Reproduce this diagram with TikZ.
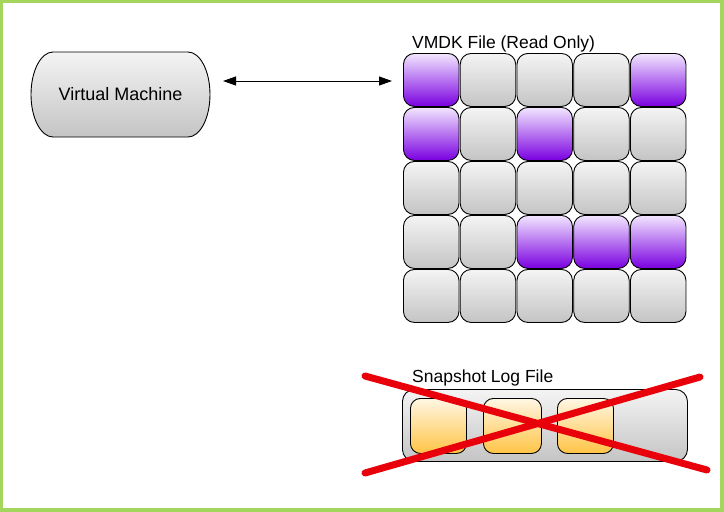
\documentclass[tikz,border=0pt]{standalone}
\usepackage{fontspec}
\setmainfont{Liberation Sans}
\usetikzlibrary{arrows.meta}
\definecolor{bordergreen}{HTML}{A4D65E}
\definecolor{greytop}{HTML}{F4F4F4}
\definecolor{greybot}{HTML}{C4C4C4}
\definecolor{purptop}{HTML}{F2E6FF}
\definecolor{purpbot}{HTML}{7A00E0}
\definecolor{orgtop}{HTML}{FFF6E4}
\definecolor{orgbot}{HTML}{FFC445}
\definecolor{xred}{HTML}{E8000B}
\tikzset{
  cellbox/.style={draw=black, line width=0.9pt, rounded corners=11pt, minimum width=55.5pt, minimum height=53pt, inner sep=0pt, anchor=north west, top color=greytop, bottom color=greybot},
  purpbox/.style={cellbox, top color=purptop, bottom color=purpbot},
  orgbox/.style={draw=black, line width=0.9pt, rounded corners=10pt, minimum width=56pt, minimum height=55pt, inner sep=0pt, anchor=north west, top color=orgtop, bottom color=orgbot},
  lbl/.style={font=\fontsize{17.5pt}{20pt}\selectfont, inner sep=0pt, anchor=base west},
  crossline/.style={draw=xred, line width=7pt, line cap=round}
}
\begin{document}
\begin{tikzpicture}[x=1pt,y=-1pt]
\useasboundingbox (0,0) rectangle (724,512);
\fill[bordergreen] (0,0) rectangle (724,512);
\fill[white] (3,3) rectangle (720,508);
% Virtual machine
\shade[draw=black, line width=0.9pt, top color=greytop, bottom color=greybot]
  (53,52) -- (188,52) arc[start angle=-90, end angle=90, x radius=22, y radius=42.5]
  -- (53,137) arc[start angle=90, end angle=270, x radius=22, y radius=42.5] -- cycle;
\node[minimum width=179pt, minimum height=85pt, font=\fontsize{18pt}{20pt}\selectfont] (vm) at (120.5,94.5) {Virtual Machine};
% VMDK grid
\node[lbl] (vmdklbl) at (412,48) {VMDK File (Read Only)};
\foreach \r/\row in {1/{p,g,g,g,p},2/{p,g,p,g,g},3/{g,g,g,g,g},4/{g,g,p,p,p},5/{g,g,g,g,g}}{
  \foreach \t [count=\c] in \row {
    \pgfmathsetmacro{\xx}{403+(\c-1)*56.75}
    \pgfmathsetmacro{\yy}{53+(\r-1)*54}
    \if p\t
      \node[purpbox] (c\r\c) at (\xx,\yy) {};
    \else
      \node[cellbox] (c\r\c) at (\xx,\yy) {};
    \fi
  }
}
% arrow
\coordinate (a1) at (223,81);
\coordinate (a2) at (392,81);
\draw[line width=1pt, {Triangle[length=13pt,width=9pt]}-{Triangle[length=13pt,width=9pt]}] (a1) -- (a2);
% Snapshot log file
\node[lbl] (snaplbl) at (412,382) {Snapshot Log File};
\node[draw=black, line width=0.9pt, rounded corners=12pt, minimum width=285pt, minimum height=72pt, inner sep=0pt, anchor=north west, top color=greytop, bottom color=greybot] (log) at (402,389) {};
\node[orgbox] (o1) at (410,398) {};
\node[orgbox, minimum width=58pt] (o2) at (483,398) {};
\node[orgbox] (o3) at (557,398) {};
% red cross
\coordinate (x1) at (365,376);
\coordinate (x2) at (707,470);
\coordinate (x3) at (365,473);
\coordinate (x4) at (700,377);
\draw[crossline] (x1) -- (x2);
\draw[crossline] (x3) -- (x4);
\end{tikzpicture}
\end{document}
